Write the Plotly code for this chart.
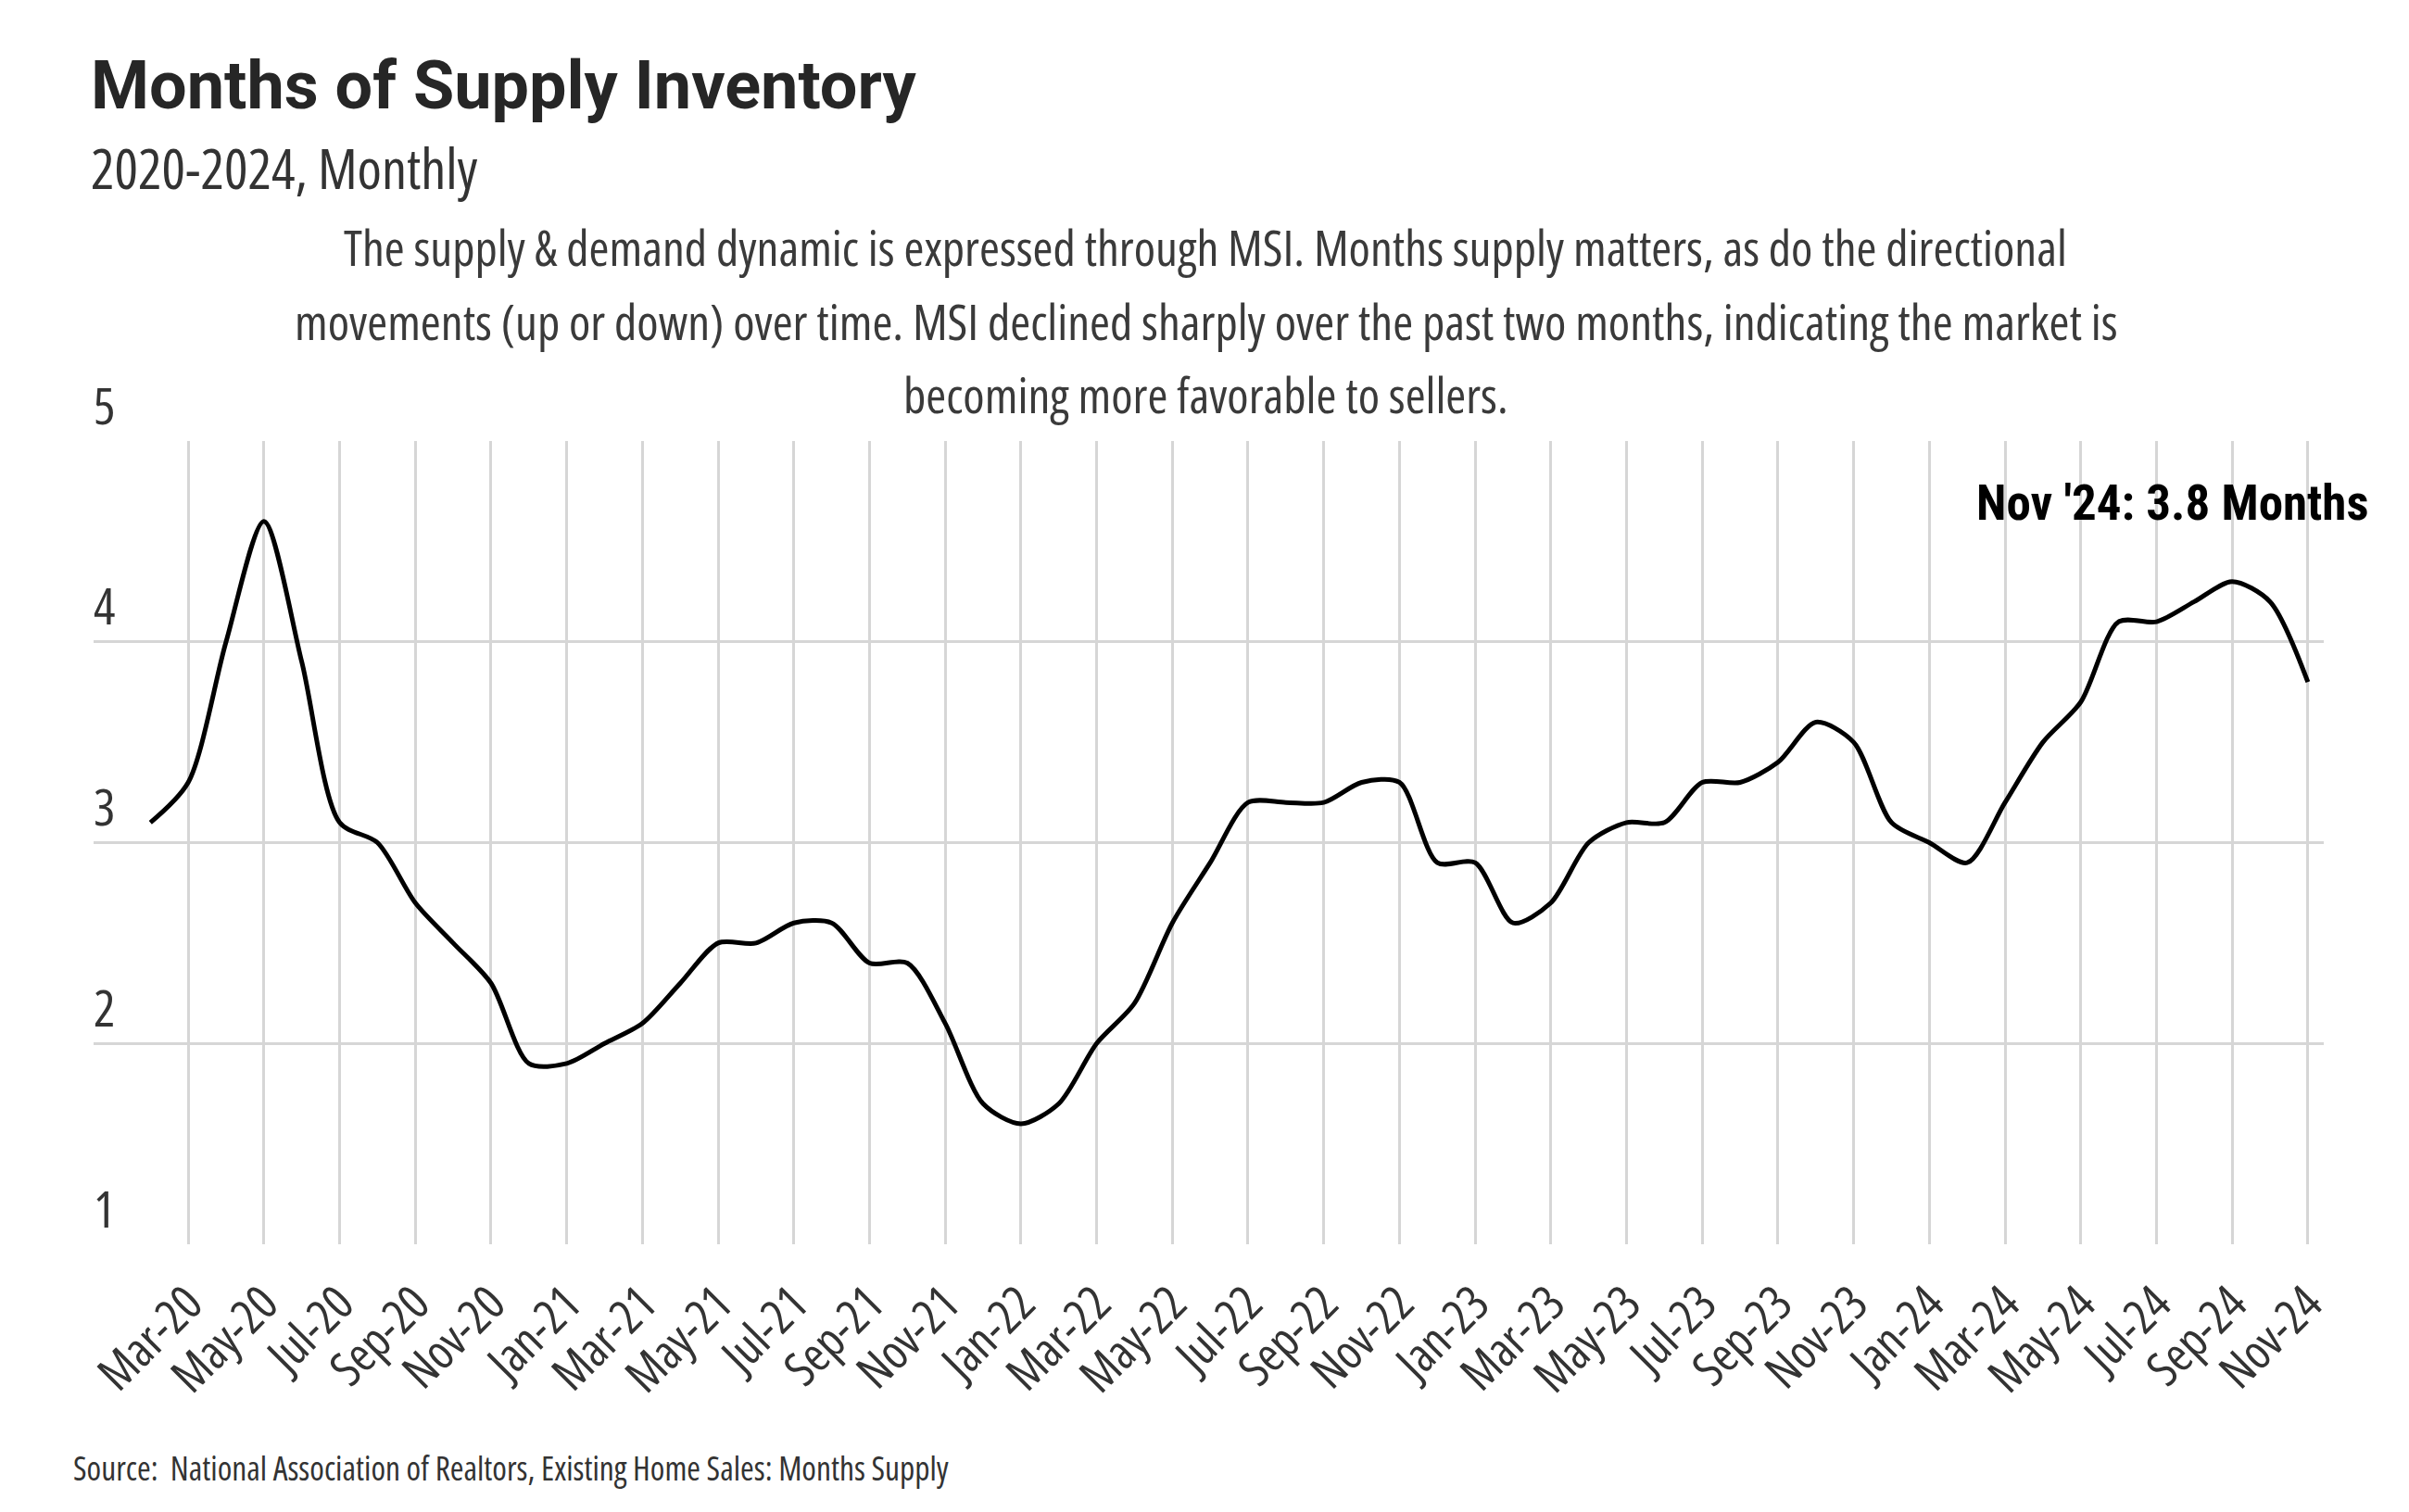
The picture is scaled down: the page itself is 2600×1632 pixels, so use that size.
import pandas as pd
import plotly.graph_objects as go

months = list(pd.date_range("2020-02-01", "2024-11-01", freq="MS").strftime("%b-%y"))
msi = [3.1, 3.3, 4.0, 4.6, 3.9, 3.1, 3.0, 2.7, 2.5, 2.3, 1.9, 1.9,
       2.0, 2.1, 2.3, 2.5, 2.5, 2.6, 2.6, 2.4, 2.4, 2.1, 1.7, 1.6,
       1.7, 2.0, 2.2, 2.6, 2.9, 3.2, 3.2, 3.2, 3.3, 3.3, 2.9, 2.9,
       2.6, 2.7, 3.0, 3.1, 3.1, 3.3, 3.3, 3.4, 3.6, 3.5, 3.1, 3.0,
       2.9, 3.2, 3.5, 3.7, 4.1, 4.1, 4.2, 4.3, 4.2, 3.8]
tick_labels = months[1::2]
y_ticks = [1, 2, 3, 4, 5]

title = "Months of Supply Inventory"
subtitle = "2020-2024, Monthly"
desc_lines = [
    "The supply & demand dynamic is expressed through MSI. Months supply matters, as do the directional",
    "movements (up or down) over time. MSI declined sharply over the past two months, indicating the market is",
    "becoming more favorable to sellers.",
]
callout = "Nov '24: 3.8 Months"
source = "Source:  National Association of Realtors, Existing Home Sales: Months Supply"

SANS = "Open Sans, sans-serif"
# the page body adds an 8px offset, so the figure is drawn 8px smaller on each side
W, H = 2584, 1616
L, R, T, B = 93, 2500, 468, 1335


def cond(text, pct=75):
    return f"<span style='font-stretch:{pct}%'>{text}</span>"


def py(ypx):
    return (B - ypx) / (B - T)


def px(xpx):
    return (xpx - L) / (R - L)


fig = go.Figure()
fig.add_trace(go.Scatter(
    x=months, y=msi, mode="lines",
    line=dict(color="#000000", width=5, shape="spline", smoothing=0.8),
    hoverinfo="x+y", showlegend=False,
))

annotations = []
annotations.append(dict(text=cond(subtitle), xref="paper", yref="paper", x=px(88), y=py(173),
                        xanchor="left", yanchor="middle", showarrow=False,
                        font=dict(family=SANS, size=60, color="#333333")))
for i, line in enumerate(desc_lines):
    annotations.append(dict(text=cond(line), xref="paper", yref="paper", x=px(1293), y=py(258 + 80 * i),
                            xanchor="center", yanchor="middle", showarrow=False,
                            font=dict(family=SANS, size=53, color="#3a3a3a")))
annotations.append(dict(text=cond("<b>" + callout + "</b>", 78), xref="x", yref="y",
                        x=months[-1], y=4.69, xanchor="right", yanchor="middle",
                        xshift=68, showarrow=False,
                        font=dict(family="Roboto, sans-serif", size=53, color="#000000")))
annotations.append(dict(text=cond(source), xref="paper", yref="paper", x=px(69), y=py(1576),
                        xanchor="left", yanchor="middle", showarrow=False,
                        font=dict(family=SANS, size=35.5, color="#333333")))
for v in y_ticks:
    annotations.append(dict(text=cond(str(v)), xref="paper", yref="y", x=0, y=v,
                            xanchor="left", yanchor="middle", xshift=-2, yshift=40, showarrow=False,
                            font=dict(family=SANS, size=55, color="#333333")))

fig.update_layout(
    width=W, height=H,
    margin=dict(l=L, r=W - R, t=T, b=H - B, autoexpand=False),
    paper_bgcolor="white", plot_bgcolor="white",
    title=dict(text="<b>" + title + "</b>", xref="container", yref="container",
               x=90 / W, y=1 - 84 / H, xanchor="left", yanchor="middle",
               font=dict(family="Roboto, sans-serif", size=72, color="#262626")),
    annotations=annotations,
    xaxis=dict(
        type="category", range=[-1.5, len(months) - 1 + 0.42], automargin=False,
        tickmode="array", tickvals=tick_labels,
        ticktext=[cond(t) for t in tick_labels],
        tickangle=-45, showgrid=True, gridcolor="#d6d6d6", gridwidth=2.5,
        showline=False, zeroline=False, ticks="",
        ticklabelstandoff=22,
        tickfont=dict(family=SANS, size=52, color="#333333"),
    ),
    yaxis=dict(
        range=[1, 5], tickmode="array", tickvals=y_ticks, automargin=False,
        showgrid=True, gridcolor="#d6d6d6", gridwidth=2.5,
        zeroline=False, showline=False, ticks="", showticklabels=False,
    ),
)

fig.write_html("out.html")
